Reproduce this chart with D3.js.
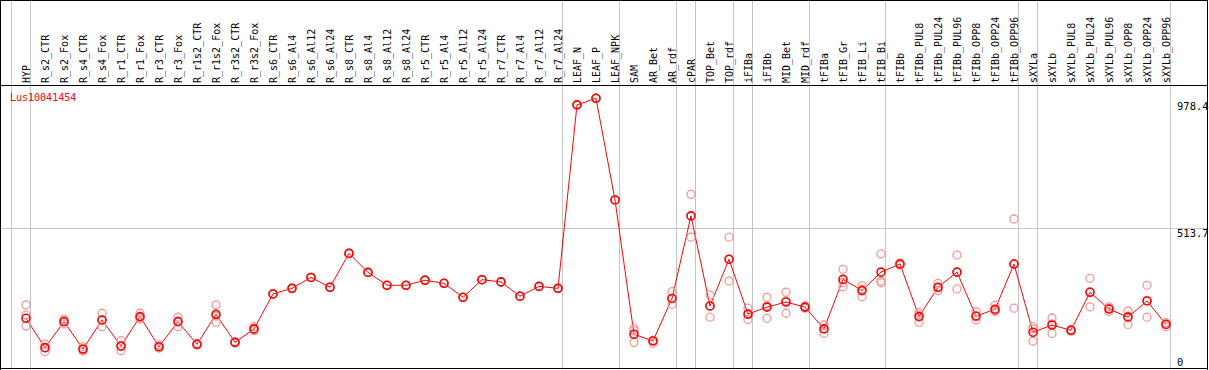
<!DOCTYPE html>
<html>
<meta charset="utf-8">
<style type="text/css">
  body { margin: 0; background: #fff; }
  text { font-family: "DejaVu Sans Mono", monospace; font-size: 10px; }
</style>
<body>
<script src="https://d3js.org/d3.v7.min.js"></script>
<div id="chart"></div>
<script>
  // ---- data ----
  const gene = "Lus10041454";

  const categories = ["HYP", "R_s2_CTR", "R_s2_Fox", "R_s4_CTR", "R_s4_Fox", "R_r1_CTR", "R_r1_Fox",
    "R_r3_CTR", "R_r3_Fox", "R_r1s2_CTR", "R_r1s2_Fox", "R_r3s2_CTR", "R_r3s2_Fox",
    "R_s6_CTR", "R_s6_Al4", "R_s6_Al12", "R_s6_Al24", "R_s8_CTR", "R_s8_Al4", "R_s8_Al12", "R_s8_Al24",
    "R_r5_CTR", "R_r5_Al4", "R_r5_Al12", "R_r5_Al24", "R_r7_CTR", "R_r7_Al4", "R_r7_Al12", "R_r7_Al24",
    "LEAF_N", "LEAF_P", "LEAF_NPK", "SAM", "AR_Bet", "AR_rdf", "cPAR", "TOP_Bet", "TOP_rdf",
    "iFIBa", "iFIBb", "MID_Bet", "MID_rdf", "tFIBa", "tFIB_Gr", "tFIB_Li", "tFIB_Bi",
    "tFIBb", "tFIBb_PUL8", "tFIBb_PUL24", "tFIBb_PUL96", "tFIBb_OPP8", "tFIBb_OPP24", "tFIBb_OPP96",
    "sXYLa", "sXYLb", "sXYLb_PUL8", "sXYLb_PUL24", "sXYLb_PUL96", "sXYLb_OPP8", "sXYLb_OPP24", "sXYLb_OPP96"];

  const means = [192, 87, 180, 82, 186, 93, 198, 90, 180, 99, 206, 106, 154,
    279, 299, 338, 303, 424, 356, 310, 310, 328, 317, 267, 330, 322, 271, 306, 299,
    955, 978.4, 615, 135, 111, 263, 558, 236, 403, 207, 232, 250, 232, 154, 331, 291, 357,
    386, 198, 303, 357, 200, 224, 386, 142, 168, 149, 285, 225, 196, 254, 170];

  const rep1 = [240, 100, 188, 90, 210, 112, 210, 97, 196, 102, 240, 108, 162,
    279, 299, 338, 303, 424, 356, 310, 310, 328, 317, 267, 330, 322, 271, 306, 299,
    955, 978.4, 615, 156, 114, 287, 635, 275, 482, 228, 267, 285, 236, 168, 367, 309, 422,
    390, 212, 317, 418, 216, 238, 547, 162, 193, 152, 335, 233, 218, 310, 176];
  const rep2 = [204, 87, 182, 80, 186, 92, 195, 90, 182, 99, 200, 106, 152,
    279, 299, 338, 303, 424, 356, 310, 310, 328, 317, 267, 330, 322, 271, 306, 299,
    955, 978.4, 615, 148, 111, 262, 558, 236, 403, 206, 236, 255, 232, 156, 320, 296, 325,
    386, 204, 301, 357, 198, 220, 386, 154, 172, 149, 287, 227, 200, 256, 172];
  const rep3 = [165, 73, 172, 75, 162, 76, 190, 85, 162, 96, 178, 104, 148,
    279, 299, 338, 303, 424, 356, 310, 310, 328, 317, 267, 330, 322, 271, 306, 299,
    955, 978.4, 615, 106, 103, 242, 482, 196, 325, 188, 192, 210, 228, 138, 305, 269, 319,
    382, 178, 291, 297, 186, 216, 228, 110, 138, 146, 233, 216, 170, 196, 162];

  // indices of samples followed by a group separator (-1 = before the first)
  const separators = [-1, 0, 28, 31, 34, 35, 37, 38, 41, 45, 52, 53, 60];

  const yTicks = [0, 513.7, 978.4];

  // ---- layout ----
  const width = 1209, height = 370;
  const headerBottom = 85, plotRight = 1207;

  const svg = d3.select("#chart").append("svg")
    .attr("width", width)
    .attr("height", height);

  const x = d3.scaleLinear().domain([0, categories.length - 1]).range([26, 1166]);
  const y = d3.scaleLinear().domain([0, 978.4]).range([372, 98.3]);

  // separators
  svg.selectAll("line.sep")
    .data(separators)
    .enter().append("line")
    .attr("class", "sep")
    .attr("x1", d => Math.round(x(d)) + 4.5)
    .attr("x2", d => Math.round(x(d)) + 4.5)
    .attr("y1", 0).attr("y2", height)
    .style("stroke", "#c4c4c4");

  // horizontal grid line at middle tick
  svg.append("line")
    .attr("x1", 0).attr("x2", plotRight)
    .attr("y1", Math.round(y(513.7)) + 0.5).attr("y2", Math.round(y(513.7)) + 0.5)
    .style("stroke", "#c4c4c4");

  // frame
  const frame = [[0, 0.5, plotRight, 0.5], [0, headerBottom + 0.5, plotRight, headerBottom + 0.5],
    [0, height - 1.5, plotRight, height - 1.5], [0.5, 0, 0.5, height], [plotRight + 0.5, 0, plotRight + 0.5, height]];
  svg.selectAll("line.frame")
    .data(frame)
    .enter().append("line")
    .attr("x1", d => d[0]).attr("y1", d => d[1])
    .attr("x2", d => d[2]).attr("y2", d => d[3])
    .style("stroke", "#000");

  // category labels (vertical)
  svg.selectAll("text.cat")
    .data(categories)
    .enter().append("text")
    .attr("transform", (d, i) => "translate(" + (Math.round(x(i)) + 4) + "," + (headerBottom - 2) + ") rotate(-90)")
    .attr("fill", "#000")
    .text(d => d);

  // y tick labels
  svg.selectAll("text.tick")
    .data(yTicks)
    .enter().append("text")
    .attr("x", 1177)
    .attr("y", d => Math.max(110, Math.min(366, y(d) + 9)))
    .attr("fill", "#000")
    .style("font-size", "10.5px")
    .text(d => d);

  // gene name
  svg.append("text")
    .attr("x", 10).attr("y", 101)
    .attr("fill", "red")
    .text(gene);

  // mean line
  const line = d3.line()
    .x((d, i) => x(i))
    .y(d => y(d));

  svg.append("path")
    .datum(means)
    .attr("d", line)
    .style("fill", "none")
    .style("stroke", "red")
    .style("stroke-width", 1);

  // replicate circles
  const reps = [];
  [rep1, rep2, rep3].forEach(r => r.forEach((v, i) => reps.push({ i: i, v: v })));
  svg.selectAll("circle.rep")
    .data(reps)
    .enter().append("circle")
    .attr("cx", d => x(d.i))
    .attr("cy", d => y(d.v))
    .attr("r", 4)
    .style("fill", "none")
    .style("stroke", "#f09898")
    .style("stroke-width", 1.3);

  // mean circles
  svg.selectAll("circle.mean")
    .data(means)
    .enter().append("circle")
    .attr("cx", (d, i) => x(i))
    .attr("cy", d => y(d))
    .attr("r", 4)
    .style("fill", "none")
    .style("stroke", "red")
    .style("stroke-width", 1.6);
</script>
</body>
</html>
